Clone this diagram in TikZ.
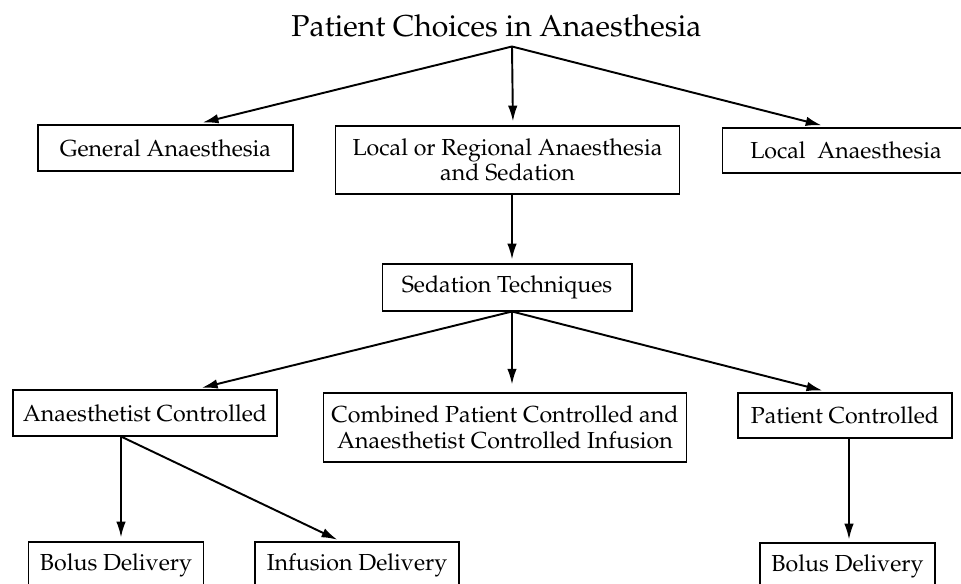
\documentclass[tikz,border=0pt]{standalone}
\usepackage[T1]{fontenc}
\usepackage{mathpazo}
\usetikzlibrary{arrows.meta}
\tikzset{
  choice/.style={draw,line width=0.6pt,inner sep=0pt,align=center,
    font=\fontsize{13.2}{14.4}\selectfont},
  pick/.style={-{Latex[length=9pt,width=5.4pt]},line width=1.1pt},
}
\begin{document}
\begin{tikzpicture}[x=0.02cm,y=-0.02cm]
  \useasboundingbox (0,0) rectangle (961,584);
  \clip (0,0) rectangle (961,584);
  \node[inner sep=0pt,anchor=base,font=\fontsize{17.2}{19}\selectfont] (title) at (496.5,37) {Patient Choices in Anaesthesia};
  \coordinate (hub) at ([xshift=0.31cm,yshift=-0.17cm]title.south);
  % first choice
  \node[choice,minimum width=5.1cm,minimum height=0.92cm] (general) at (165.5,148) {General Anaesthesia};
  \node[choice,minimum width=6.9cm,minimum height=1.36cm] (regional) at (507.5,160) {Local or Regional Anaesthesia\\and Sedation};
  \node[choice,minimum width=4.96cm,minimum height=0.9cm] (local) at (846,150.5) {Local\ \ Anaesthesia};
  \draw[pick,shorten >=4.5pt] (hub) -- ([xshift=0.59cm]general.north);
  \draw[pick,shorten >=2.3pt] (hub) -- ([xshift=0.11cm]regional.north);
  \draw[pick,shorten >=5pt] (hub) -- ([xshift=-0.32cm]local.north);
  % sedation
  \node[choice,minimum width=5cm,minimum height=0.94cm] (sedation) at (507,287.5) {Sedation Techniques};
  \draw[pick,shorten >=2.3pt] ([xshift=0.09cm]regional.south) -- ([xshift=0.1cm]sedation.north);
  \node[choice,minimum width=5.28cm,minimum height=0.92cm] (anaes) at (145,413) {Anaesthetist Controlled};
  \node[choice,minimum width=7.28cm,minimum height=1.38cm] (combined) at (505,427.5) {Combined Patient Controlled and\\Anaesthetist Controlled Infusion};
  \node[choice,minimum width=4.28cm,minimum height=0.9cm] (patient) at (845,415.5) {Patient Controlled};
  \draw[pick,shorten >=4pt] ([xshift=0.1cm]sedation.south) -- ([xshift=1cm]anaes.north);
  \draw[pick,shorten >=4.5pt] ([xshift=0.1cm]sedation.south) -- ([xshift=0.14cm]combined.north);
  \draw[pick,shorten >=4.5pt] ([xshift=0.1cm]sedation.south) -- ([xshift=-0.3cm]patient.north);
  % delivery
  \node[choice,minimum width=3.5cm,minimum height=0.92cm] (bolusA) at (116,565) {Bolus Delivery};
  \node[choice,minimum width=4.08cm,minimum height=0.92cm] (infusion) at (357,565) {Infusion Delivery};
  \node[choice,minimum width=3.5cm,minimum height=0.92cm] (bolusP) at (847.5,566) {Bolus Delivery};
  \draw[pick,shorten >=2.3pt] ([xshift=-0.48cm]anaes.south) -- ([xshift=0.1cm]bolusA.north);
  \draw[pick,shorten >=2.3pt] ([xshift=-0.48cm]anaes.south) -- ([xshift=-0.32cm]infusion.north);
  \draw[pick,shorten >=1.7pt] ([xshift=0.08cm]patient.south) -- ([xshift=0.03cm]bolusP.north);
\end{tikzpicture}
\end{document}
